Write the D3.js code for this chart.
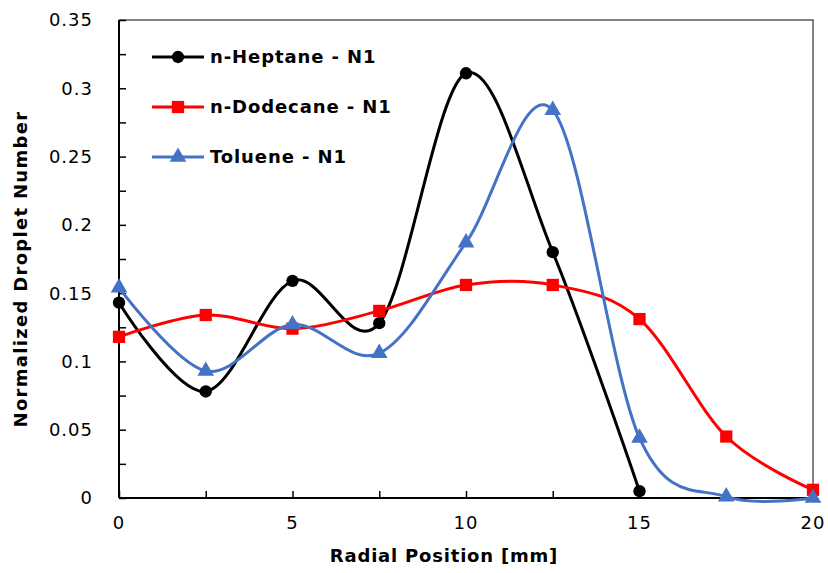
<!DOCTYPE html>
<html>
<head>
<meta charset="utf-8">
<script src="https://d3js.org/d3.v7.min.js"></script>
<style>
  body { margin: 0; background: #fff; }
  svg text { font-family: "DejaVu Sans", Verdana, sans-serif; fill: #000; }
</style>
</head>
<body>
<svg id="chart" width="828" height="573"></svg>
<script>
var radial = [0, 2.5, 5, 7.5, 10, 12.5, 15, 17.5, 20];
var heptane = [0.143, 0.078, 0.159, 0.128, 0.311, 0.180, 0.005];
var dodecane = [0.118, 0.134, 0.124, 0.137, 0.156, 0.156, 0.131, 0.045, 0.006];
var toluene = [0.154, 0.093, 0.127, 0.106, 0.187, 0.284, 0.044, 0.001, 0.0];
var xTicks = [0, 5, 10, 15, 20];
var yTicks = [0, 0.05, 0.1, 0.15, 0.2, 0.25, 0.3, 0.35];

var series = [
  {name: "n-Heptane - N1", values: heptane, color: "#000000", shape: d3.symbolCircle, size: 120},
  {name: "n-Dodecane - N1", values: dodecane, color: "#ff0000", shape: d3.symbolSquare, size: 150},
  {name: "Toluene - N1", values: toluene, color: "#4472c4", shape: d3.symbolTriangle, size: 120}
];

var margin = {top: 20, right: 15, bottom: 75, left: 119};
var width = 828 - margin.left - margin.right;
var height = 573 - margin.top - margin.bottom;

var svg = d3.select("#chart");
var g = svg.append("g").attr("transform", "translate(" + margin.left + "," + margin.top + ")");

var x = d3.scaleLinear().domain([0, 20]).range([0, width]);
var y = d3.scaleLinear().domain([0, 0.35]).range([height, 0]);

// frame top/right
g.append("path")
  .attr("d", "M0,0H" + width + "V" + height)
  .attr("fill", "none").attr("stroke", "#595959").attr("stroke-width", 1.5);

// minor ticks inside
g.append("g").call(d3.axisRight(y).tickValues(d3.range(0, 0.351, 0.025)).tickSize(7).tickFormat(""))
  .call(function(s) { s.select(".domain").remove(); s.selectAll("line").attr("stroke-width", 1.5); });
g.append("g").attr("transform", "translate(0," + height + ")")
  .call(d3.axisTop(x).tickValues(d3.range(0, 20.1, 2.5)).tickSize(7).tickFormat(""))
  .call(function(s) { s.select(".domain").remove(); s.selectAll("line").attr("stroke-width", 1.5); });

// labels
g.append("g").selectAll("text").data(yTicks).join("text")
  .attr("x", -26).attr("y", function(d) { return y(d); }).attr("dy", "0.36em")
  .attr("text-anchor", "end").style("font-size", "18px").style("letter-spacing", "1px")
  .text(function(d) { return d3.format("")(d); });
g.append("g").selectAll("text").data(xTicks).join("text")
  .attr("x", function(d) { return x(d); }).attr("y", height + 31)
  .attr("text-anchor", "middle").style("font-size", "18px").style("letter-spacing", "1px")
  .text(function(d) { return d; });

// axis lines
g.append("line").attr("x1", 0).attr("x2", 0).attr("y1", 0).attr("y2", height)
  .attr("stroke", "#000").attr("stroke-width", 2);
g.append("line").attr("x1", 0).attr("x2", width).attr("y1", height).attr("y2", height)
  .attr("stroke", "#000").attr("stroke-width", 2);

var line = d3.line()
  .x(function(d, i) { return x(radial[i]); })
  .y(function(d) { return y(d); })
  .curve(d3.curveCardinal.tension(0));

series.forEach(function(s) {
  g.append("path").datum(s.values)
    .attr("d", line).attr("fill", "none")
    .attr("stroke", s.color).attr("stroke-width", 3);
  g.append("g").selectAll("path").data(s.values).join("path")
    .attr("transform", function(d, i) { return "translate(" + x(radial[i]) + "," + y(d) + ")"; })
    .attr("d", d3.symbol().type(s.shape).size(s.size))
    .attr("fill", s.color);
});

// legend
var legend = svg.append("g").attr("transform", "translate(152,57)");
series.forEach(function(s, i) {
  var row = legend.append("g").attr("transform", "translate(0," + (i * 50) + ")");
  row.append("line").attr("x1", 0).attr("x2", 52).attr("stroke", s.color).attr("stroke-width", 3);
  row.append("path").attr("transform", "translate(26,0)")
    .attr("d", d3.symbol().type(s.shape).size(s.size)).attr("fill", s.color);
  row.append("text").attr("x", 58).attr("dy", "0.36em")
    .style("font-size", "18px").style("font-weight", "bold").style("letter-spacing", "0.9px")
    .text(s.name);
});

// titles
svg.append("text")
  .attr("x", 444).attr("y", 562)
  .attr("text-anchor", "middle").style("font-size", "18px").style("font-weight", "bold")
  .style("letter-spacing", "0.8px")
  .text("Radial Position [mm]");
svg.append("text")
  .attr("transform", "translate(27,269) rotate(-90)")
  .attr("text-anchor", "middle").style("font-size", "18px").style("font-weight", "bold")
  .style("letter-spacing", "1.3px")
  .text("Normalized Droplet Number");
</script>
</body>
</html>
